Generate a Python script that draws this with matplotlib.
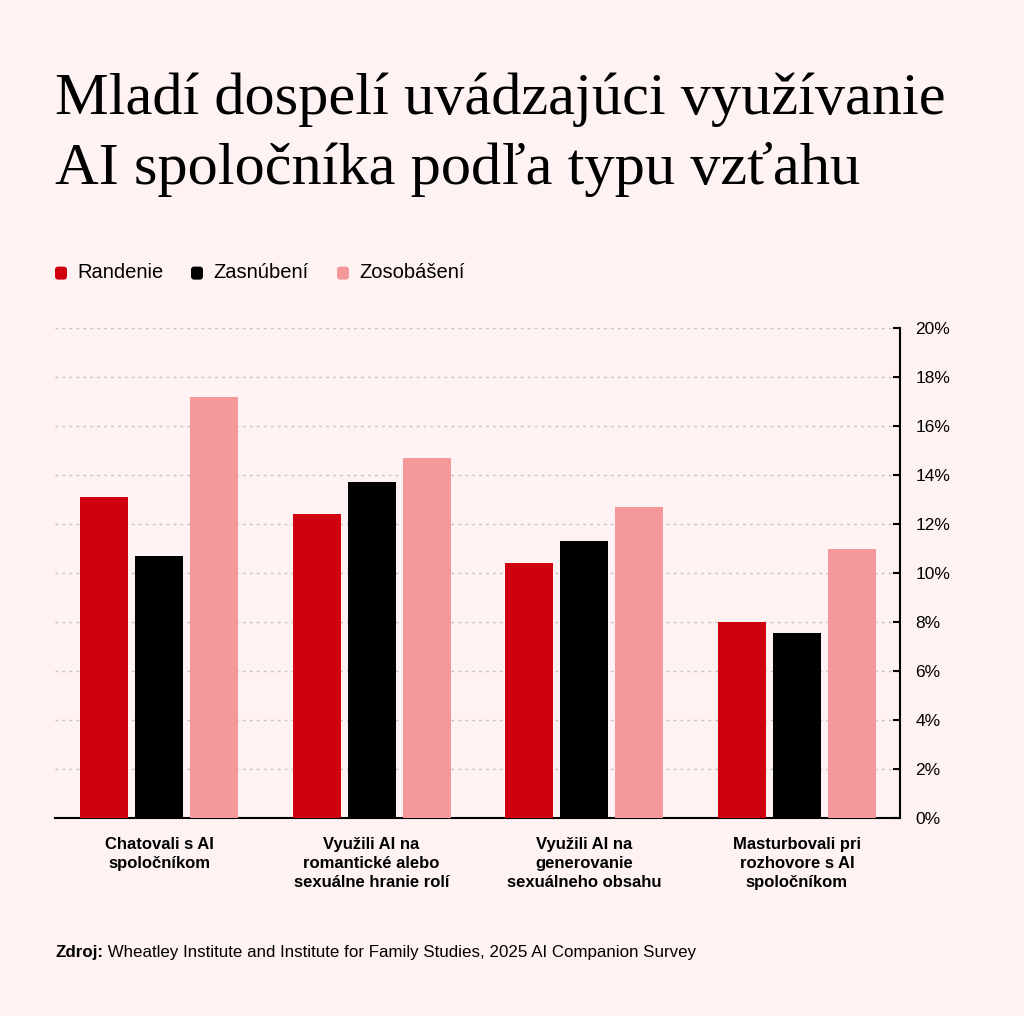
import numpy as np
import matplotlib
matplotlib.use("Agg")
from matplotlib import pyplot as plt
from matplotlib.patches import FancyBboxPatch

categories = ["Chatovali s AI\nspoločníkom",
              "Využili AI na\nromantické alebo\nsexuálne hranie rolí",
              "Využili AI na\ngenerovanie\nsexuálneho obsahu",
              "Masturbovali pri\nrozhovore s AI\nspoločníkom"]
series_names = ["Randenie", "Zasnúbení", "Zosobášení"]
randenie = [13.1, 12.4, 10.4, 8.0]
zasnubeni = [10.7, 13.7, 11.3, 7.55]
zosobaseni = [17.2, 14.7, 12.7, 11.0]
yticks = [0, 2, 4, 6, 8, 10, 12, 14, 16, 18, 20]

bg = "#FEF2F2"
colors = ["#D0000F", "#000000", "#F4989C"]

plt.rcParams['font.family'] = ['Liberation Sans', 'DejaVu Sans']

fig = plt.figure(figsize=(10.24, 10.16), dpi=100)
fig.patch.set_facecolor(bg)
# axes: x 55..900 px, y 328..818 px
ax = fig.add_axes([55 / 1024, 1 - 818 / 1016, 845 / 1024, 490 / 1016])
ax.set_facecolor(bg)

x = np.arange(len(categories))
w = 0.226
off = 0.259
for i, vals in enumerate([randenie, zasnubeni, zosobaseni]):
    ax.bar(x + (i - 1) * off, vals, width=w, color=colors[i], zorder=3)

ax.set_xlim(-0.489, 3.485)
ax.set_ylim(0, 20)
ax.yaxis.tick_right()
ax.set_yticks(yticks)
ax.set_yticklabels([f"{t}%" for t in yticks], fontsize=12.5)
ax.tick_params(axis='y', direction='in', length=5, width=1.5, color='black', pad=11)
ax.set_xticks(x)
ax.set_xticklabels(categories, fontsize=12, fontweight='bold', linespacing=1.3)
ax.tick_params(axis='x', length=0, pad=14)
ax.grid(axis='y', color='#C9C4C4', linestyle=(0, (2, 3)), linewidth=1, zorder=0)
for s in ['top', 'left']:
    ax.spines[s].set_visible(False)
ax.spines['right'].set_linewidth(1.5)
ax.spines['bottom'].set_linewidth(1.5)

fig.text(55 / 1024, 1 - 184 / 1016, "Mladí dospelí uvádzajúci využívanie\nAI spoločníka podľa typu vzťahu",
         fontsize=43.5, family=['Liberation Serif', 'DejaVu Serif'], va='baseline',
         linespacing=1.36)

# legend
lx = [55, 191, 337]
for i, name in enumerate(series_names):
    px = lx[i] / 1024
    py = 1 - 273 / 1016
    box = FancyBboxPatch((px, py - 0.0065), 0.0117, 0.0128,
                         boxstyle="round,pad=0,rounding_size=0.003",
                         transform=fig.transFigure, facecolor=colors[i],
                         edgecolor='none')
    fig.patches.append(box)
    fig.text(px + 22 / 1024, py, name, fontsize=14.5, va='center')

src = fig.text(55 / 1024, 1 - 953 / 1016, "Zdroj:", fontsize=12.2, fontweight='bold', va='center')
ax.annotate(" Wheatley Institute and Institute for Family Studies, 2025 AI Companion Survey",
            xy=(1, 0.5), xycoords=src, va='center', ha='left', fontsize=12.2,
            annotation_clip=False)

fig.savefig("out.png", dpi=100, facecolor=bg)
